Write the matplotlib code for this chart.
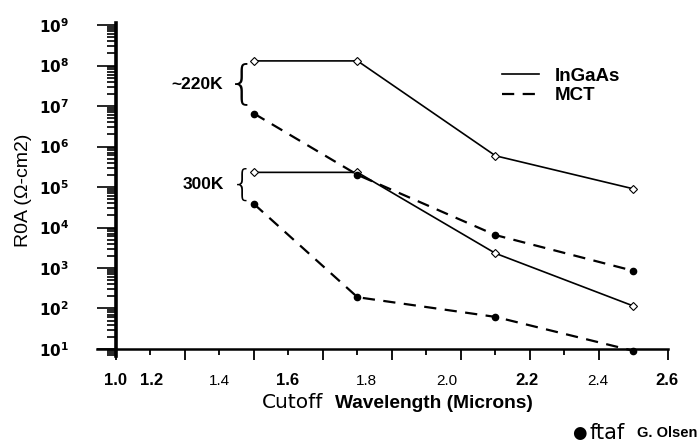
import matplotlib
matplotlib.use("Agg")
import matplotlib.pyplot as plt
from matplotlib.ticker import FixedLocator, LogLocator, NullFormatter

# ---------------- data ----------------
x_cutoff = [1.4, 1.7, 2.1, 2.5]            # axis position of each cutoff
ingaas_220 = [1.3e8, 1.3e8, 5.9e5, 9.0e4]
ingaas_300 = [2.3e5, 2.3e5, 2.3e3, 1.15e2]
mct_220 = [6.5e6, 2.0e5, 6.5e3, 8.5e2]
mct_300 = [3.8e4, 1.9e2, 6.2e1, 9.0]

x_tick_text = ["1.0", "1.2", "1.4", "1.6", "1.8", "2.0", "2.2", "2.4", "2.6"]
x_tick_text_pos = [1.0, 1.104, 1.301, 1.496, 1.725, 1.96, 2.19, 2.397, 2.597]
x_tick_bold = [True, True, False, True, False, False, True, False, True]
y_decades = [1, 2, 3, 4, 5, 6, 7, 8, 9]

# ---------------- figure ----------------
W, H = 698, 443
fig = plt.figure(figsize=(W / 100, H / 100), dpi=100)
ax_left, ax_right, ax_top, ax_bot = 97, 668, 23, 356
ax = fig.add_axes([ax_left / W, 1 - ax_bot / H, (ax_right - ax_left) / W, (ax_bot - ax_top) / H])

ax.set_yscale("log")
ax.set_xlim(0.945, 2.6)
ax.set_ylim(10 ** 0.827, 10 ** 9.05)

for s in ["top", "right"]:
    ax.spines[s].set_visible(False)
ax.spines["left"].set_position(("data", 1.0))
ax.spines["left"].set_linewidth(2.6)
ax.spines["bottom"].set_position(("data", 10))
ax.spines["bottom"].set_linewidth(1.8)

# x ticks
ax.xaxis.set_major_locator(FixedLocator([1.0, 1.2, 1.4, 1.6, 1.8, 2.0, 2.2, 2.4, 2.6]))
ax.xaxis.set_minor_locator(FixedLocator([1.1, 1.3, 1.5, 1.7, 1.9, 2.1, 2.3, 2.5]))
ax.xaxis.set_major_formatter(NullFormatter())
ax.tick_params(axis="x", which="major", direction="out", length=8, width=1.3)
ax.tick_params(axis="x", which="minor", direction="out", length=4.5, width=1.3)

# y ticks
ax.yaxis.set_major_locator(FixedLocator([10.0 ** d for d in y_decades]))
ax.yaxis.set_minor_locator(LogLocator(base=10, subs=[2, 3, 4, 5, 6, 7, 8, 9], numticks=20))
ax.yaxis.set_minor_formatter(NullFormatter())
ax.set_yticklabels([r"$\mathbf{10^{%d}}$" % d for d in y_decades])
ax.tick_params(axis="y", which="major", direction="out", length=13.7, width=1.2, pad=20, labelsize=11)
ax.tick_params(axis="y", which="minor", direction="out", length=6.5, width=1.2)

# x tick labels placed as in the scanned original
trans = ax.get_xaxis_transform()
for txt, pos, bold in zip(x_tick_text, x_tick_text_pos, x_tick_bold):
    ax.text(pos, -0.075, txt, transform=trans, ha="center", va="center",
            family="Liberation Sans", fontsize=12 if bold else 11,
            fontweight="bold" if bold else "normal", clip_on=False)

# ---------------- data lines ----------------
ax.plot(x_cutoff, ingaas_220, "-", marker="D", ms=4, mfc="white", mec="black", mew=0.8,
        label="InGaAs", color="black", lw=1.2)
ax.plot(x_cutoff, ingaas_300, "-", marker="D", ms=4, mfc="white", mec="black", mew=0.8,
        color="black", lw=1.2)
ax.plot(x_cutoff, mct_220, marker="o", ms=4.5, mfc="black", mec="black",
        dashes=(5.5, 3.8), label="MCT", color="black", lw=1.6)
ax.plot(x_cutoff, mct_300, marker="o", ms=4.5, mfc="black", mec="black",
        dashes=(5.5, 3.8), color="black", lw=1.6)

leg = ax.legend(loc="center left", bbox_to_anchor=(0.709, 0.811), frameon=False,
                handlelength=2.0, handletextpad=0.8, labelspacing=0.15, borderpad=0,
                borderaxespad=0,
                prop={"family": "Liberation Sans", "weight": "bold", "size": 13.5})
for h in leg.legend_handles:
    h.set_marker("")

# ---------------- brace annotations ----------------
ax.text(1.309, 10 ** 7.52, "~220K", ha="right", va="center",
        family="Liberation Sans", fontweight="bold", fontsize=12.5)
ax.text(1.365, 10 ** 7.55, "{", ha="center", va="center",
        family="DejaVu Sans", fontweight="light", fontsize=34)
ax.text(1.312, 10 ** 5.07, "300K", ha="right", va="center",
        family="Liberation Sans", fontweight="bold", fontsize=12.5)
ax.text(1.365, 10 ** 5.05, "{", ha="center", va="center",
        family="DejaVu Sans", fontweight="light", fontsize=26)

# ---------------- axis titles ----------------
fig.text(24 / W, 1 - 190 / H, "R0A (Ω-cm2)", rotation=90, ha="center", va="center",
         family="Liberation Sans", fontsize=14)
fig.text(262 / W, 1 - 403 / H, "Cutoff", ha="left", va="center",
         family="DejaVu Sans", fontsize=14.5)
fig.text(335 / W, 1 - 403 / H, "Wavelength (Microns)", ha="left", va="center",
         family="Liberation Sans", fontweight="bold", fontsize=13.8)

# footer
fig.text(572 / W, 1 - 433 / H, "●", ha="left", va="center", family="DejaVu Sans", fontsize=12)
fig.text(590 / W, 1 - 433 / H, "ftaf", ha="left", va="center", family="DejaVu Sans", fontsize=15)
fig.text(637 / W, 1 - 433 / H, "G. Olsen", ha="left", va="center",
         family="Liberation Sans", fontweight="bold", fontsize=10.5)

fig.savefig("out.png", dpi=100)
